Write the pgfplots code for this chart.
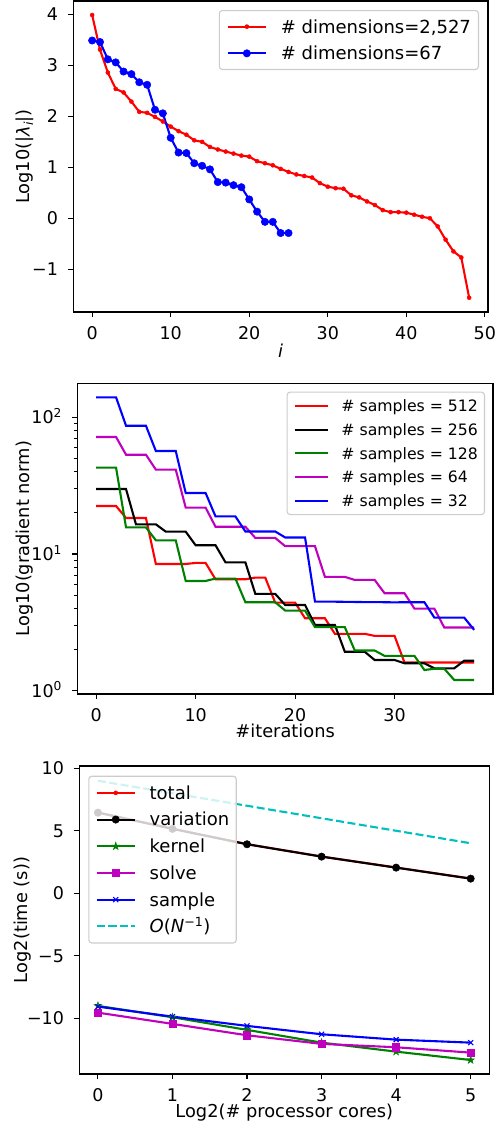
\documentclass[border=0pt]{standalone}
\usepackage{fontspec}
\setmainfont{DejaVu Sans}
\usepackage{pgfplots}
\pgfplotsset{compat=1.18}

\newcommand{\tfont}{\fontsize{17.5pt}{21pt}\selectfont}
\newcommand{\lfont}{\fontsize{17.8pt}{21pt}\selectfont}
\newcommand{\gfont}{\fontsize{18pt}{21pt}\selectfont}
\newcommand{\sfont}{\fontsize{15.7pt}{19pt}\selectfont}

\definecolor{mplgreen}{rgb}{0,0.5,0}
\definecolor{mplmag}{rgb}{0.75,0,0.75}
\definecolor{mplcyan}{rgb}{0,0.75,0.75}

\pgfdeclareplotmark{fstar}{%
  \pgfpathmoveto{\pgfpointpolar{90}{\pgfplotmarksize}}%
  \pgfpathlineto{\pgfpointpolar{126}{0.382\pgfplotmarksize}}%
  \pgfpathlineto{\pgfpointpolar{162}{\pgfplotmarksize}}%
  \pgfpathlineto{\pgfpointpolar{198}{0.382\pgfplotmarksize}}%
  \pgfpathlineto{\pgfpointpolar{234}{\pgfplotmarksize}}%
  \pgfpathlineto{\pgfpointpolar{270}{0.382\pgfplotmarksize}}%
  \pgfpathlineto{\pgfpointpolar{306}{\pgfplotmarksize}}%
  \pgfpathlineto{\pgfpointpolar{342}{0.382\pgfplotmarksize}}%
  \pgfpathlineto{\pgfpointpolar{18}{\pgfplotmarksize}}%
  \pgfpathlineto{\pgfpointpolar{54}{0.382\pgfplotmarksize}}%
  \pgfpathclose
  \pgfusepathqfillstroke
}

\pgfplotsset{
  mpl/.style={
    scale only axis,
    axis line style={black, line width=1.1pt},
    tick align=outside,
    tick pos=left,
    major tick length=5.1pt,
    minor tick length=2.9pt,
    every major tick/.style={black, line width=1.1pt},
    every minor tick/.style={black, line width=0.85pt},
    xticklabel style={font=\tfont, anchor=base, yshift=-22.5pt, inner sep=0pt},
    yticklabel style={font=\tfont, anchor=base east, inner sep=0pt, xshift=-10pt, yshift=-6.4pt},
    xlabel style={font=\lfont, at={(axis description cs:0.5,0)}, anchor=base, yshift=-43.5pt, inner sep=0pt},
    ylabel style={font=\lfont, anchor=center, inner sep=0pt},
    legend cell align=left,
    legend style={draw=black!20, line width=1.1pt, rounded corners=3pt, fill=white,
      fill opacity=0.8, draw opacity=1, text opacity=1},
  },
  lw/.style={line width=2.1pt},
}

\begin{document}
\begin{tikzpicture}
\useasboundingbox (0,0) rectangle (498pt,-1122pt);

% ---------------- Panel 1 ----------------
\begin{axis}[mpl,
  at={(73.3pt,-1pt)}, anchor=north west,
  width=414.7pt, height=311pt,
  xmin=-2.4, xmax=50.4, ymin=-1.84, ymax=4.265,
  xtick={0,10,20,30,40,50}, xticklabels={0,10,20,30,40,50},
  ytick={-1,0,1,2,3,4}, yticklabels={−1,0,1,2,3,4},
  xlabel={\textit{i}}, xlabel style={yshift=-1.5pt},
  ylabel={Log10(|\textit{λ}\textsubscript{\textit{i}}|)},
  ylabel style={at={(axis description cs:-0.1165,0.5)}},
  legend style={at={(axis description cs:1,1)}, anchor=north east, xshift=-9pt, yshift=-9pt,
    font=\gfont, inner xsep=7.5pt, inner ysep=8.5pt, row sep=11.5pt, column sep=14pt,
    nodes={inner sep=0pt, text height=14pt, text depth=1.2pt}},
  legend image code/.code={\draw[mark repeat=2,mark phase=2,#1,fill opacity=1] plot coordinates {(0pt,0pt) (19pt,0pt) (38pt,0pt)};},
]
\addplot[red, lw, mark=*, mark size=2pt, mark options={solid, fill=red, draw=red, line width=0.5pt}] table {
x y
0 3.99
1 3.31
2 2.86
3 2.54
4 2.47
5 2.29
6 2.09
7 2.07
8 1.99
9 1.90
10 1.80
11 1.71
12 1.64
13 1.53
14 1.50
15 1.40
16 1.35
17 1.31
18 1.27
19 1.23
20 1.21
21 1.12
22 1.08
23 1.04
24 0.97
25 0.91
26 0.86
27 0.83
28 0.80
29 0.69
30 0.62
31 0.59
32 0.58
33 0.45
34 0.41
35 0.33
36 0.26
37 0.16
38 0.12
39 0.12
40 0.11
41 0.07
42 0.03
43 0.00
44 -0.16
45 -0.42
46 -0.65
47 -0.77
48 -1.56
};
\addlegendentry{\# dimensions=2,527}
\addplot[blue, lw, mark=*, mark size=3.7pt, mark options={solid, fill=blue, draw=blue, line width=0.5pt}] table {
x y
0 3.49
1 3.46
2 3.12
3 3.06
4 2.88
5 2.83
6 2.67
7 2.62
8 2.13
9 2.06
10 1.58
11 1.29
12 1.28
13 1.08
14 1.03
15 0.96
16 0.71
17 0.70
18 0.65
19 0.61
20 0.37
21 0.13
22 -0.07
23 -0.07
24 -0.29
25 -0.29
};
\addlegendentry{\# dimensions=67}
\end{axis}

% ---------------- Panel 2 ----------------
\begin{axis}[mpl,
  at={(77.3pt,-383.3pt)}, anchor=north west,
  width=415.7pt, height=310.7pt,
  ymode=log,
  xmin=-1.9, xmax=39.9, ymin=0.948, ymax=176.5,
  xtick={0,10,20,30}, xticklabels={0,10,20,30},
  ytick={1,10,100}, yticklabels={10\textsuperscript{0},10\textsuperscript{1},10\textsuperscript{2}},
  minor ytick={2,3,4,5,6,7,8,9,20,30,40,50,60,70,80,90},
  xlabel={\#iterations},
  ylabel={Log10(gradient norm)},
  ylabel style={at={(axis description cs:-0.126,0.5)}},
  legend style={at={(axis description cs:1,1)}, anchor=north east, xshift=-8pt, yshift=-8.3pt,
    font=\sfont, inner xsep=6.5pt, inner ysep=7.2pt, row sep=10pt, column sep=12.7pt,
    nodes={inner sep=0pt, text height=12.5pt, text depth=1.1pt}},
  legend image code/.code={\draw[#1] (0pt,0pt) -- (33pt,0pt);},
]
\addplot[red, lw] table {
x y
0 22.40
1 22.40
2 22.40
3 18.32
4 18.32
5 18.32
6 8.45
7 8.45
8 8.45
9 8.45
10 8.60
11 8.60
12 6.53
13 6.53
14 6.53
15 6.53
16 6.72
17 6.72
18 4.41
19 4.41
20 4.41
21 3.39
22 3.39
23 3.39
24 2.61
25 2.61
26 2.61
27 2.61
28 2.52
29 2.52
30 2.52
31 1.61
32 1.61
33 1.61
34 1.61
35 1.61
36 1.61
37 1.61
38 1.61
};
\addlegendentry{\# samples = 512}
\addplot[black, lw] table {
x y
0 29.8
1 29.8
2 29.8
3 29.8
4 16.46
5 16.46
6 16.46
7 14.55
8 14.55
9 14.55
10 11.57
11 11.57
12 11.57
13 8.69
14 8.69
15 8.69
16 5.11
17 5.11
18 5.11
19 4.24
20 4.24
21 4.24
22 3.03
23 3.03
24 3.03
25 1.93
26 1.93
27 1.93
28 1.68
29 1.68
30 1.68
31 1.59
32 1.59
33 1.59
34 1.46
35 1.46
36 1.46
37 1.66
38 1.66
};
\addlegendentry{\# samples = 256}
\addplot[mplgreen, lw] table {
x y
0 42.7
1 42.7
2 42.7
3 15.65
4 15.65
5 15.65
6 12.58
7 12.58
8 12.58
9 6.35
10 6.35
11 6.35
12 6.61
13 6.61
14 6.61
15 4.44
16 4.44
17 4.44
18 4.44
19 3.86
20 3.86
21 3.86
22 2.92
23 2.92
24 2.92
25 2.92
26 1.97
27 1.97
28 1.97
29 1.80
30 1.80
31 1.80
32 1.80
33 1.42
34 1.45
35 1.45
36 1.20
37 1.20
38 1.20
};
\addlegendentry{\# samples = 128}
\addplot[mplmag, lw] table {
x y
0 71.5
1 71.5
2 71.5
3 53.1
4 53.1
5 53.1
6 41.3
7 41.3
8 41.3
9 21.8
10 21.8
11 21.8
12 15.8
13 15.8
14 15.8
15 15.8
16 13.1
17 13.1
18 13.1
19 11.4
20 11.4
21 11.4
22 11.4
23 6.80
24 6.80
25 6.80
26 6.46
27 6.46
28 6.46
29 5.16
30 5.16
31 5.16
32 3.99
33 3.99
34 3.99
35 2.90
36 2.90
37 2.90
38 2.90
};
\addlegendentry{\# samples = 64}
\addplot[blue, lw] table {
x y
0 139.2
1 139.2
2 139.2
3 86.5
4 86.5
5 86.5
6 56.5
7 56.5
8 56.5
9 27.9
10 27.9
11 27.9
12 18.8
13 18.8
14 18.8
15 14.6
16 14.6
17 14.6
18 14.6
19 13.2
20 13.2
21 13.2
22 4.49
23 4.49
24 4.48
25 4.47
26 4.46
27 4.45
28 4.45
29 4.44
30 4.43
31 4.44
32 4.44
33 4.44
34 3.43
35 3.43
36 3.43
37 3.43
38 2.79
};
\addlegendentry{\# samples = 32}
\end{axis}

% ---------------- Panel 3 ----------------
\begin{axis}[mpl,
  at={(79.3pt,-766pt)}, anchor=north west,
  width=410pt, height=308pt,
  xmin=-0.25, xmax=5.25, ymin=-14.46, ymax=10.18,
  xtick={0,1,2,3,4,5}, xticklabels={0,1,2,3,4,5},
  ytick={-10,-5,0,5,10}, yticklabels={−10,−5,0,5,10},
  xlabel={Log2(\# processor cores)},
  ylabel={Log2(time (s))},
  ylabel style={at={(axis description cs:-0.1385,0.5)}},
  legend style={at={(axis description cs:0,1)}, anchor=north west, xshift=9pt, yshift=-9.7pt,
    font=\gfont, inner xsep=7pt, inner ysep=9pt, row sep=11.5pt, column sep=14pt,
    nodes={inner sep=0pt, text height=14pt, text depth=1.2pt}},
  legend image code/.code={\draw[mark repeat=2,mark phase=2,#1,fill opacity=1] plot coordinates {(0pt,0pt) (18.85pt,0pt) (37.7pt,0pt)};},
]
\addplot[red, lw, mark=*, mark size=2pt, mark options={solid, fill=red, draw=red, line width=0.5pt}] table {
x y
0 6.47
1 5.17
2 3.93
3 2.94
4 2.06
5 1.18
};
\addlegendentry{total}
\addplot[black, lw, mark=*, mark size=3.7pt, mark options={solid, fill=black, draw=black, line width=0.5pt}] table {
x y
0 6.45
1 5.15
2 3.92
3 2.93
4 2.05
5 1.17
};
\addlegendentry{variation}
\addplot[mplgreen, lw, mark=fstar, mark size=4pt, mark options={solid, fill=mplgreen, draw=mplgreen, line width=0.5pt}] table {
x y
0 -9.01
1 -9.92
2 -10.93
3 -11.95
4 -12.67
5 -13.34
};
\addlegendentry{kernel}
\addplot[mplmag, lw, mark=square*, mark size=3.6pt, mark options={solid, fill=mplmag, draw=mplmag, line width=0.5pt}] table {
x y
0 -9.55
1 -10.45
2 -11.36
3 -12.05
4 -12.32
5 -12.75
};
\addlegendentry{solve}
\addplot[blue, lw, mark=x, mark size=3.5pt, mark options={solid, draw=blue, line width=1.1pt}] table {
x y
0 -9.07
1 -9.87
2 -10.61
3 -11.28
4 -11.71
5 -11.95
};
\addlegendentry{sample}
\addplot[mplcyan, lw, dash pattern=on 8pt off 3.5pt] table {
x y
0 9
1 8
2 7
3 6
4 5
5 4
};
\addlegendentry{\textit{O}(\textit{N}\textsuperscript{−1})}
\end{axis}
\end{tikzpicture}
\end{document}
